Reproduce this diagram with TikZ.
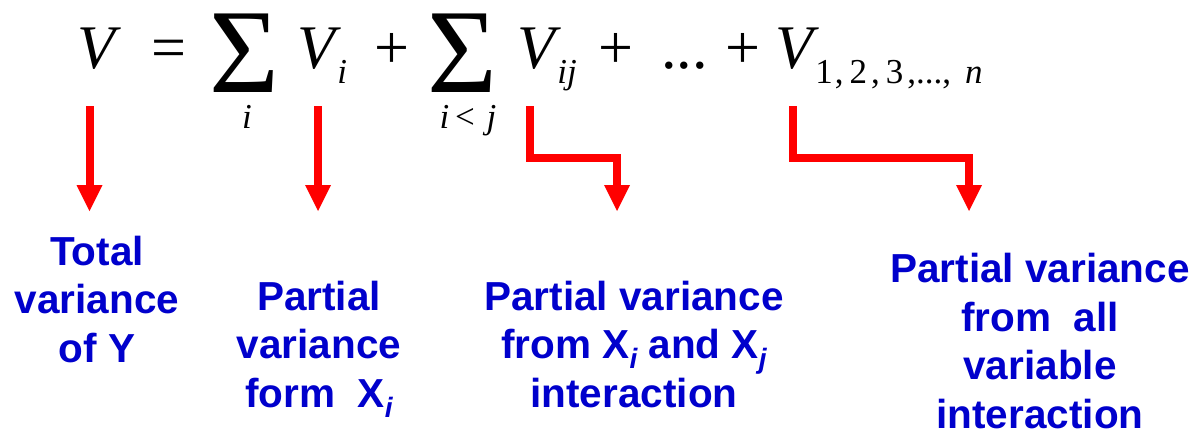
\documentclass[tikz,border=0pt]{standalone}
\usepackage{fontspec}
\setmainfont{Liberation Serif}
\newfontfamily\lblfont{Liberation Sans}
\usetikzlibrary{arrows.meta,positioning}
\definecolor{lblblue}{RGB}{0,0,204}
\definecolor{arrred}{RGB}{255,0,0}
\newcommand{\lsub}[1]{\raisebox{-5pt}{\fontsize{14}{14}\selectfont\itshape #1}}
\newcommand{\msub}[1]{\kern1pt\raisebox{-7.5pt}{\fontsize{17.5}{17.5}\selectfont\itshape #1}}

\begin{document}
\begin{tikzpicture}[x=0.5pt, y=-0.5pt,
  term/.style={inner sep=0pt, anchor=base west,
               font=\fontsize{31}{31}\selectfont\itshape},
  op/.style={term, font=\fontsize{31}{31}\selectfont},
  bigsum/.style={inner sep=0pt, anchor=base, text depth=0pt,
                 font=\fontsize{60}{60}\selectfont},
  lim/.style={inner sep=0pt, anchor=base, text height=12pt,
              font=\fontsize{17.5}{17.5}\selectfont\itshape},
  lbl/.style={inner sep=0pt, anchor=base, align=center, text=lblblue,
              font=\lblfont\bfseries\fontsize{20.25}{24.25}\selectfont},
  arr/.style={draw=arrred, line width=4pt, line join=miter,
              -{Triangle[length=13pt, width=13pt, line width=0pt]}}]
\path[use as bounding box, fill=white] (0,0) rectangle (1195,434);
% the decomposition
\node[term] (vtot) at (77,68) {V};
\node[op] (eqs) at (151,68) {=};
\node[bigsum] (sumi) at (244.5,92) {Σ};
\node[lim] (limi) at (247,128) {i};
\node[term] (vi) at (297,68) {V\msub{i}};
\node[op] (plusa) at (374,68) {+};
\node[bigsum] (sumij) at (462.5,92) {Σ};
\node[lim] (limij) at (468,128) {i\,{\upshape<}\,\,j};
\node[term] (vij) at (517,68) {V\msub{ij}};
\node[op] (plusb) at (598,68) {+};
\node[op] (dots) at (661,68) {...};
\node[op] (plusc) at (725,68) {+};
\node[term] (vall) at (775,68)
  {V\msub{{\upshape 1\kern1pt,\kern3pt2\kern2pt,\kern3pt3\kern2pt,...,}\kern7pt n}};
% what each term stands for (base = last line)
\node[lbl] (ltot) at (97,362) {Total\\variance\\of Y};
\node[lbl] (lxi) at (319,407) {Partial\\variance\\form\ \ X\lsub{i}};
\node[lbl] (lxij) at (634,407) {Partial variance\\from X\lsub{i} and X\lsub{j}\\interaction};
\node[lbl] (lall) at (1040,428) {Partial variance\\from\ \ all\\variable\\interaction};
% arrows
\coordinate (s1) at (89.5,106);  \coordinate (t1) at (89.5,211);
\coordinate (s2) at (318,106);   \coordinate (t2) at (318,211);
\coordinate (s3) at (529.5,106); \coordinate (k3) at (617,158); \coordinate (t3) at (617,211);
\coordinate (s4) at (793,106);   \coordinate (k4) at (969,158); \coordinate (t4) at (969,211);
\draw[arr] (s1) -- (t1);
\draw[arr] (s2) -- (t2);
\draw[arr] (s3) |- (k3) -- (t3);
\draw[arr] (s4) |- (k4) -- (t4);
\end{tikzpicture}
\end{document}
